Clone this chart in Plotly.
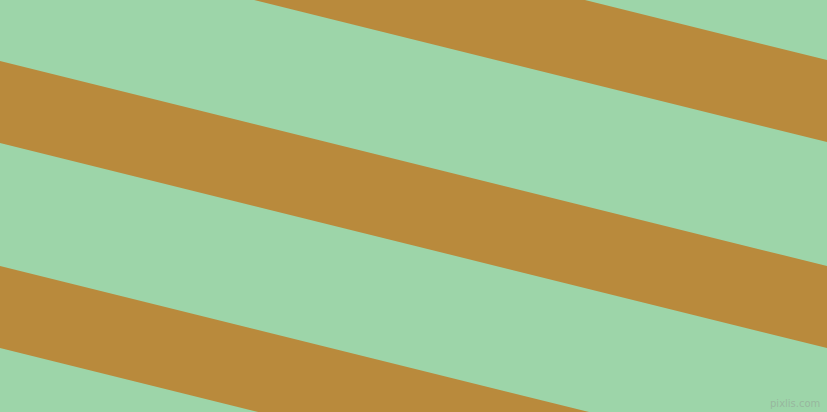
import plotly.graph_objects as go

# edge positions (y at left edge x=0 and right edge x=827)
x_ends = [0, 827]
upper_left = [-145, 61, 266]
upper_right = [60, 266, 471]
band = [82, 82, 82]

green = "#9dd5a9"
brown = "#b98a3c"

fig = go.Figure()

for ul, ur, b in zip(upper_left, upper_right, band):
    xs = [x_ends[0], x_ends[1], x_ends[1], x_ends[0], x_ends[0]]
    ys = [ul, ur, ur + b, ul + b, ul]
    fig.add_trace(go.Scatter(x=xs, y=ys, mode="lines", fill="toself",
                             fillcolor=brown, line=dict(width=0),
                             hoverinfo="skip", showlegend=False))

fig.add_annotation(x=822, y=403, text="pixlis.com", showarrow=False,
                   xanchor="right", yanchor="middle",
                   font=dict(family="DejaVu Sans", size=10,
                             color="rgba(150,175,155,0.8)"))

fig.update_xaxes(range=[0, 827], visible=False, fixedrange=True)
fig.update_yaxes(range=[412, 0], visible=False, fixedrange=True)
fig.update_layout(width=827, height=412, margin=dict(l=0, r=0, t=0, b=0),
                  plot_bgcolor=green, paper_bgcolor=green)

# drop the page's default body margin so the chart fills the window
fig.write_html("out.html", config={"displayModeBar": False},
               post_script="document.body.style.margin='0';"
                           "document.body.style.overflow='hidden';")
